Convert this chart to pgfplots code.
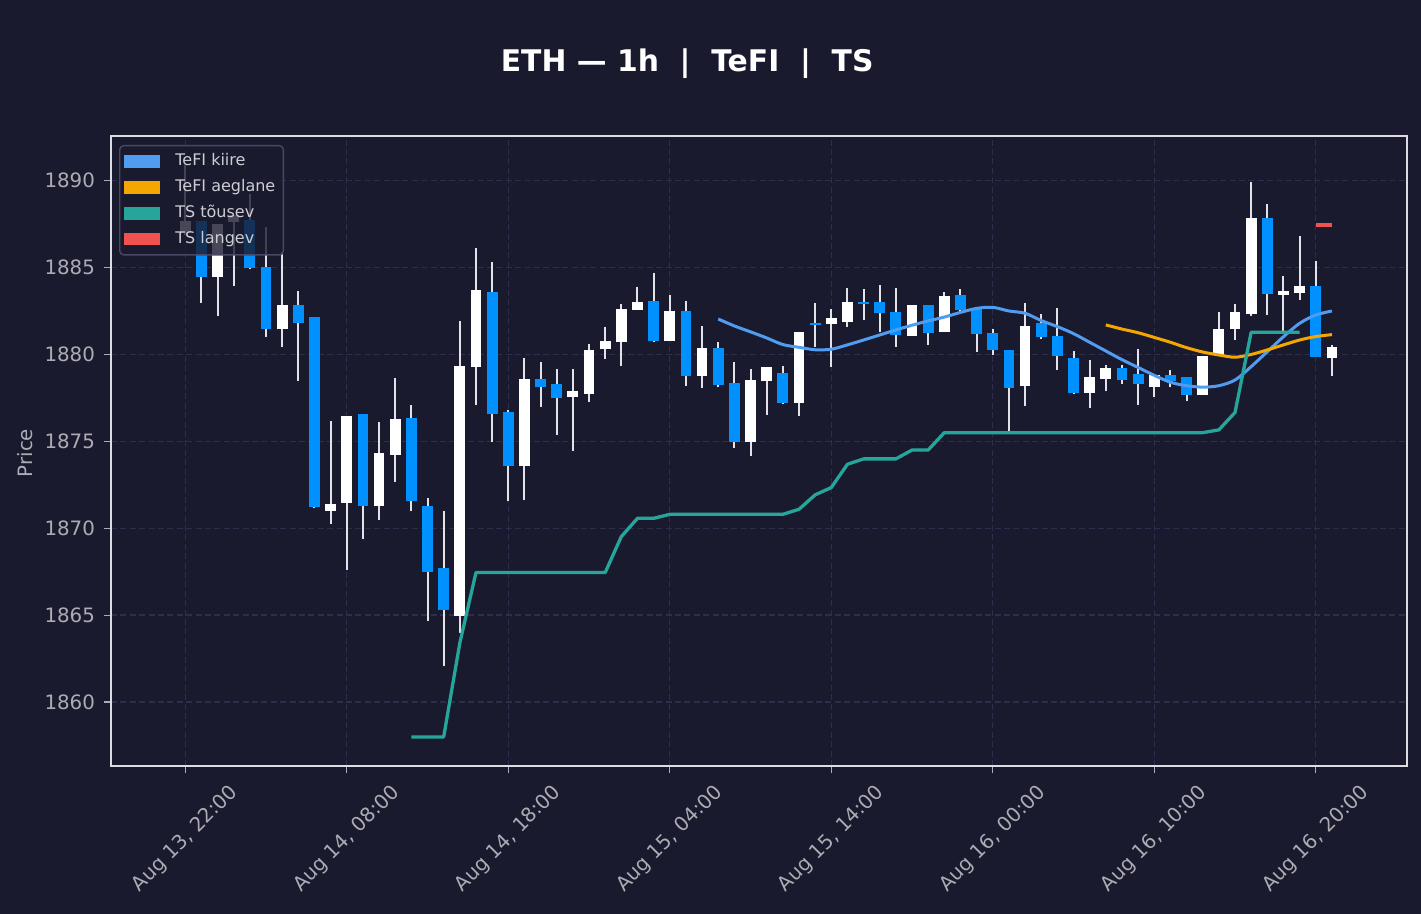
\documentclass[border=0pt]{standalone}
\usepackage{fontspec}
\setmainfont{DejaVu Sans}
\usepackage{pgfplots}
\usepackage{pgfplotstable}
\pgfplotsset{compat=1.18}

\definecolor{bg}{RGB}{26,26,46}
\definecolor{gridc}{RGB}{46,46,76}
\definecolor{framec}{RGB}{220,220,226}
\definecolor{tickc}{RGB}{172,172,180}
\definecolor{wickc}{RGB}{226,226,232}
\definecolor{bodyblue}{RGB}{0,145,255}
\definecolor{kiire}{RGB}{79,156,240}
\definecolor{aeglane}{RGB}{245,166,0}
\definecolor{tousev}{RGB}{38,166,154}
\definecolor{langev}{RGB}{239,83,80}
\definecolor{legborder}{RGB}{72,72,102}
\definecolor{legtext}{RGB}{205,205,212}

% up candles (white): t open high low close
\pgfplotstableread{
t o h l c
0 1887.00 1890.90 1886.90 1887.70
2 1884.48 1887.49 1882.23 1887.49
3 1887.64 1888.03 1883.96 1888.03
6 1881.45 1885.92 1880.45 1882.85
9 1871.00 1876.17 1870.23 1871.40
10 1871.48 1876.46 1867.57 1876.46
12 1871.30 1876.12 1870.48 1874.33
13 1874.24 1878.65 1872.66 1876.29
17 1864.94 1881.93 1864.00 1879.32
18 1879.30 1886.13 1877.10 1883.69
21 1873.60 1879.80 1871.65 1878.57
24 1877.54 1879.16 1874.47 1877.88
25 1877.71 1880.60 1877.29 1880.24
26 1880.30 1881.58 1879.76 1880.76
27 1880.70 1882.90 1879.36 1882.60
28 1882.54 1883.90 1882.54 1883.00
30 1880.76 1883.40 1880.76 1882.48
32 1878.78 1881.64 1878.09 1880.35
35 1874.98 1879.16 1874.18 1878.51
36 1878.45 1879.26 1876.54 1879.26
38 1877.23 1881.28 1876.48 1881.28
40 1881.73 1882.61 1879.28 1882.08
41 1881.85 1883.83 1881.60 1883.00
45 1881.08 1882.83 1881.08 1882.83
47 1881.28 1883.58 1881.28 1883.35
52 1878.17 1882.95 1877.05 1881.62
56 1877.77 1879.67 1876.94 1878.69
57 1878.61 1879.40 1877.92 1879.21
60 1878.11 1878.80 1877.57 1878.80
63 1877.65 1879.90 1877.65 1879.90
64 1879.97 1882.44 1879.97 1881.44
65 1881.48 1882.90 1880.83 1882.42
66 1882.33 1889.92 1882.23 1887.83
68 1883.44 1884.52 1881.22 1883.63
69 1883.56 1886.82 1883.13 1883.92
71 1879.78 1880.55 1878.78 1880.41
}\upcandles

% down candles (blue): t open high low close
\pgfplotstableread{
t o h l c
1 1887.68 1887.68 1882.98 1884.48
4 1887.74 1889.23 1884.90 1884.96
5 1885.01 1887.31 1881.02 1881.45
7 1882.85 1883.65 1878.49 1881.83
8 1882.14 1882.14 1871.15 1871.20
11 1876.58 1876.58 1869.38 1871.30
14 1876.33 1877.10 1870.98 1871.54
15 1871.30 1871.74 1864.68 1867.47
16 1867.74 1871.00 1862.10 1865.29
19 1883.58 1885.32 1874.98 1876.56
20 1876.67 1876.81 1871.54 1873.60
22 1878.57 1879.57 1877.00 1878.15
23 1878.28 1879.16 1875.39 1877.48
29 1883.10 1884.67 1880.70 1880.76
31 1882.48 1883.06 1878.20 1878.78
33 1880.35 1880.70 1878.10 1878.24
34 1878.34 1879.55 1874.60 1874.98
37 1878.91 1879.33 1877.12 1877.23
39 1881.82 1882.96 1880.43 1881.72
42 1882.99 1883.77 1882.00 1882.88
43 1883.00 1884.00 1881.30 1882.37
44 1882.43 1883.83 1880.45 1881.10
46 1882.83 1882.83 1880.56 1881.22
48 1883.40 1883.77 1882.46 1882.58
49 1882.66 1882.66 1880.16 1881.16
50 1881.22 1881.45 1879.99 1880.24
51 1880.28 1880.28 1875.56 1878.05
53 1881.79 1882.33 1880.89 1880.99
54 1881.05 1882.66 1879.13 1879.90
55 1879.78 1880.20 1877.70 1877.77
58 1879.21 1879.40 1878.32 1878.52
59 1878.86 1880.32 1877.10 1878.29
61 1878.80 1879.10 1878.11 1878.48
62 1878.73 1878.73 1877.34 1877.65
67 1887.83 1888.66 1882.27 1883.46
70 1883.92 1885.40 1879.87 1879.87
}\downcandles

\pgfplotstableread{
t v
33 1882.04
34 1881.64
35 1881.30
36 1880.95
37 1880.57
38 1880.41
39 1880.27
40 1880.30
41 1880.55
42 1880.83
43 1881.12
44 1881.41
45 1881.68
46 1881.93
47 1882.15
48 1882.42
49 1882.65
50 1882.71
51 1882.50
52 1882.37
53 1881.95
54 1881.60
55 1881.20
56 1880.70
57 1880.20
58 1879.70
59 1879.25
60 1878.80
61 1878.40
62 1878.20
63 1878.12
64 1878.20
65 1878.53
66 1879.30
67 1880.16
68 1881.02
69 1881.79
70 1882.27
71 1882.50
}\kiiredata

\pgfplotstableread{
t v
57 1881.70
58 1881.46
59 1881.25
60 1880.98
61 1880.70
62 1880.39
63 1880.14
64 1879.97
65 1879.84
66 1880.00
67 1880.26
68 1880.55
69 1880.83
70 1881.03
71 1881.14
}\aeglanedata

\pgfplotstableread{
t v
14 1857.99
15 1857.99
16 1857.99
17 1863.40
18 1867.45
19 1867.45
20 1867.45
21 1867.45
22 1867.45
23 1867.45
24 1867.45
25 1867.45
26 1867.45
27 1869.52
28 1870.57
29 1870.57
30 1870.80
31 1870.80
32 1870.80
33 1870.80
34 1870.80
35 1870.80
36 1870.80
37 1870.80
38 1871.09
39 1871.92
40 1872.34
41 1873.68
42 1873.99
43 1873.99
44 1873.99
45 1874.50
46 1874.50
47 1875.50
48 1875.50
49 1875.50
50 1875.50
51 1875.50
52 1875.50
53 1875.50
54 1875.50
55 1875.50
56 1875.50
57 1875.50
58 1875.50
59 1875.50
60 1875.50
61 1875.50
62 1875.50
63 1875.50
64 1875.66
65 1876.66
66 1881.28
67 1881.28
68 1881.28
69 1881.28
}\tousevdata

\pgfplotstableread{
t v
70 1887.45
71 1887.45
}\langevdata

\pgfplotsset{
  candle/.style={forget plot, only marks, mark=*, mark size=0pt,
    mark options={draw=none, fill=none},
    error bars/.cd, y dir=plus, y explicit, error mark=none},
}

\begin{document}
\begin{tikzpicture}
\useasboundingbox (0,0) rectangle (710.5pt,457pt);
\fill[bg] (0,0) rectangle (710.5pt,457pt);
\begin{axis}[
  at={(55.5pt,74pt)}, anchor=south west,
  width=648pt, height=315pt, scale only axis,
  xmin=-4.6, xmax=75.65,
  ymin=1856.32, ymax=1892.57,
  xtick={0,10,20,30,40,50,60,70},
  xticklabels={{Aug 13, 22:00},{Aug 14, 08:00},{Aug 14, 18:00},{Aug 15, 04:00},{Aug 15, 14:00},{Aug 16, 00:00},{Aug 16, 10:00},{Aug 16, 20:00}},
  ytick={1860,1865,1870,1875,1880,1885,1890},
  scaled y ticks=false,
  /pgf/number format/1000 sep={},
  /pgf/number format/assume math mode=true,
  tick pos=left,
  tick align=outside,
  major tick length=3.5pt,
  tick style={color=tickc, line width=0.6pt},
  axis line style={draw=framec, line width=0.7pt},
  grid=major,
  major grid style={draw=gridc, line width=0.65pt, dash pattern=on 3pt off 1.7pt},
  ticklabel style={font=\fontsize{9.9pt}{12pt}\selectfont, text=tickc},
  xticklabel style={anchor=center, rotate=45, xshift=-23.3pt, yshift=-23.3pt},
  yticklabel style={xshift=-1pt},
  legend style={at={(0.0062,0.9857)}, anchor=north west,
    fill=bg, fill opacity=0.8, text opacity=1, draw=legborder, draw opacity=1,
    rounded corners=2pt, line width=0.7pt,
    font=\fontsize{8pt}{10pt}\selectfont, text=legtext,
    row sep=0pt, inner xsep=2pt, inner ysep=1.5pt,
    nodes={text height=6.2pt, text depth=2.1pt, inner ysep=2.3pt}},
  legend cell align=left,
  legend image code/.code={\fill[#1, draw=none, fill opacity=1, sharp corners] (0pt,-3.2pt) rectangle (18pt,3.2pt); \path (23pt,0pt);},
]
% wicks
\addplot[candle, error bar style={draw=wickc, line width=1pt}]
  table[x=t, y=l, y error expr=\thisrow{h}-\thisrow{l}] {\upcandles};
\addplot[candle, error bar style={draw=wickc, line width=1pt}]
  table[x=t, y=l, y error expr=\thisrow{h}-\thisrow{l}] {\downcandles};
% bodies
\addplot[candle, error bar style={draw=white, line width=5.4pt}]
  table[x=t, y=o, y error expr=\thisrow{c}-\thisrow{o}] {\upcandles};
\addplot[candle, error bar style={draw=bodyblue, line width=5.4pt}]
  table[x=t, y=c, y error expr=\thisrow{o}-\thisrow{c}] {\downcandles};
% indicator lines
\addplot[color=kiire, line width=1.5pt, smooth] table[x=t, y=v] {\kiiredata};
\addlegendentry{TeFI kiire}
\addplot[color=aeglane, line width=1.5pt, smooth] table[x=t, y=v] {\aeglanedata};
\addlegendentry{TeFI aeglane}
\addplot[color=tousev, line width=1.65pt, line join=round] table[x=t, y=v] {\tousevdata};
\addlegendentry{TS tõusev}
\addplot[color=langev, line width=1.65pt] table[x=t, y=v] {\langevdata};
\addlegendentry{TS langev}
\end{axis}
\node[anchor=base, text=white, font=\bfseries\fontsize{14.9pt}{18pt}\selectfont] at (343.6pt,421.2pt) {ETH — 1h\ \ |\ \ TeFI\ \ |\ \ TS};
\node[rotate=90, text=tickc, font=\fontsize{9.9pt}{12pt}\selectfont] at (12.5pt,230.5pt) {Price};
\end{tikzpicture}
\end{document}
